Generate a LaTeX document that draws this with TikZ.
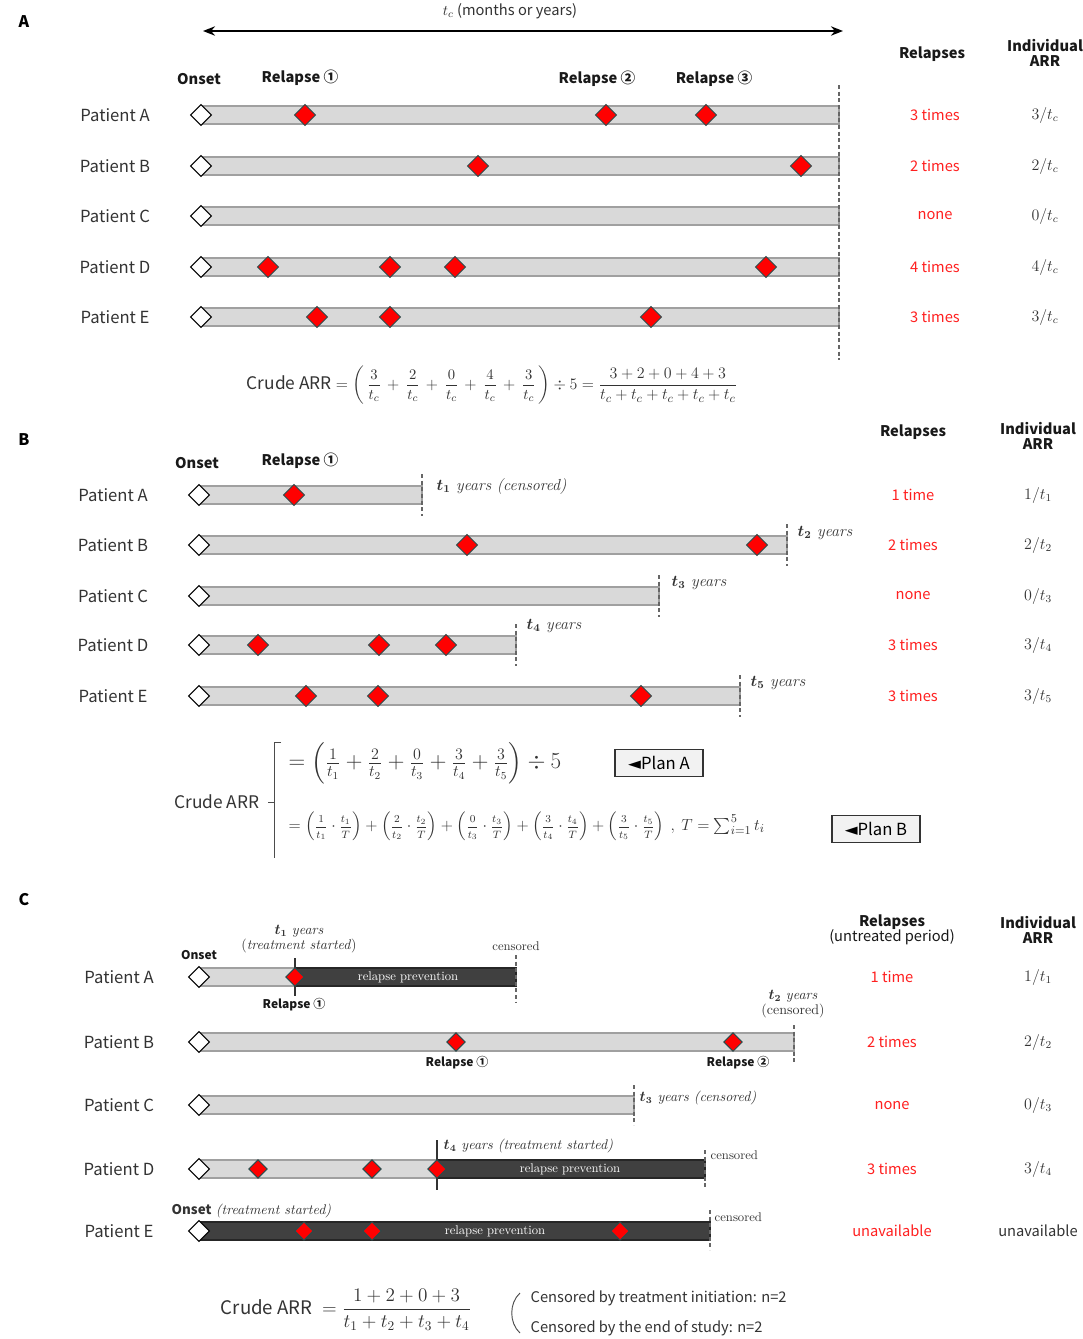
\documentclass[tikz,border=0pt]{standalone}
\usepackage{amsmath}
\usepackage{fontspec}
\setsansfont{Noto Sans CJK JP}
\newfontfamily\djv{DejaVu Sans}
\usetikzlibrary{shapes.geometric,arrows.meta}
\definecolor{barfill}{HTML}{D9D9D9}
\definecolor{barline}{HTML}{A0A0A0}
\definecolor{darkfill}{HTML}{404040}
\definecolor{darkline}{HTML}{262626}
\definecolor{relred}{HTML}{FF2020}
\definecolor{reldraw}{HTML}{2D4A4A}
\definecolor{txtgray}{HTML}{333333}
\definecolor{boxfill}{HTML}{F2F2F2}
\newcommand\sfr[2]{\mbox{\fontsize{8.5}{10}\selectfont$\dfrac{#1}{#2}$}}
\newcommand\afr[2]{\mbox{\,\fontsize{11}{13}\selectfont$\dfrac{#1}{#2}$\,}}
\tikzset{
  panel/.style={font=\sffamily\bfseries\fontsize{12}{14}\selectfont},
  bar/.style={draw=barline, fill=barfill, line width=0.8pt},
  dbar/.style={draw=darkline, fill=darkfill, line width=0.8pt},
  onset/.style={diamond, draw=black, fill=white, line width=0.8pt, minimum width=16pt, minimum height=16pt, inner sep=0pt},
  rel/.style={diamond, draw=reldraw, fill=red, line width=0.7pt, minimum width=16pt, minimum height=16pt, inner sep=0pt},
  relsm/.style={rel, minimum width=14pt, minimum height=14pt},
  plab/.style={font=\sffamily\fontsize{12.5}{15}\selectfont, text=txtgray},
  hdr/.style={font=\sffamily\bfseries\fontsize{11}{13}\selectfont, align=center, text=black!90},
  colhdr/.style={font=\sffamily\bfseries\fontsize{11}{13}\selectfont, text=black!90},
  smhdr/.style={font=\sffamily\bfseries\fontsize{9}{11}\selectfont, text=black!90},
  rcount/.style={font=\sffamily\fontsize{11}{13}\selectfont, text=relred},
  arrtxt/.style={font=\fontsize{12}{14}\selectfont, text=txtgray},
  cens/.style={dash pattern=on 3pt off 2pt, draw=black!60, line width=0.8pt},
  tline/.style={draw=black!80, line width=0.8pt},
  endlab/.style={font=\fontsize{12}{14}\selectfont\itshape, anchor=west, text=txtgray},
  serlab/.style={font=\fontsize{9.5}{11}\selectfont, text=txtgray},
  prev/.style={font=\fontsize{9.5}{11}\selectfont, text=white},
  formula/.style={font=\sffamily\fontsize{14}{16}\selectfont, text=txtgray},
  planbox/.style={draw=black!80, fill=boxfill, line width=0.8pt, font=\sffamily\fontsize{12.5}{14}\selectfont, minimum width=66pt, minimum height=20pt, inner sep=2pt}
}
\begin{document}
\begin{tikzpicture}[x=0.75pt,y=-0.75pt]
\useasboundingbox[fill=white] (0,0) rectangle (1082,1339);

%================ Panel A ================
\node[panel] (pA) at (24,22) {A};
\coordinate (tcL) at (203,31);
\coordinate (tcR) at (843,31);
\draw[line width=2.2pt, {Stealth[length=9pt,width=7pt]}-{Stealth[length=9pt,width=7pt]}] (tcL) -- (tcR);
\node[font=\sffamily\fontsize{11}{13}\selectfont, text=txtgray] (tcl) at (510,11) {$t_c$ (months or years)};
\node[colhdr] (onA) at (199,79) {Onset};
\node[colhdr] (r1A) at (300,78) {Relapse ①};
\node[colhdr] (r2A) at (597,79) {Relapse ②};
\node[colhdr] (r3A) at (714,79) {Relapse ③};
\node[hdr] (relA) at (932,54) {Relapses};
\node[hdr] (iaA) at (1045,53) {Individual\\[-2pt]ARR};

\foreach \y/\p/\c/\a [count=\i] in {115/A/3 times/3, 166/B/2 times/2, 216/C/none/0, 267/D/4 times/4, 317/E/3 times/3} {
  \node[plab] (pA\i) at (115,\y) {Patient \p};
  \draw[bar] (201,\y-9) rectangle (839,\y+9);
  \node[onset] (oA\i) at (201,\y) {};
  \node[rcount] (cA\i) at (935,\y) {\c};
  \node[arrtxt] (aA\i) at (1045,\y) {$\a/t_c$};
}
\foreach \x [count=\k] in {305,606,706} \node[rel] (dA1-\k) at (\x,115) {};
\foreach \x [count=\k] in {478,801} \node[rel] (dA2-\k) at (\x,166) {};
\foreach \x [count=\k] in {268,390,455,766} \node[rel] (dA4-\k) at (\x,267) {};
\foreach \x [count=\k] in {317,390,651} \node[rel] (dA5-\k) at (\x,317) {};
\coordinate (eAt) at (839,85);
\coordinate (eAb) at (839,360);
\draw[cens] (eAt) -- (eAb);

\node[formula, font=\sffamily\fontsize{13}{16}\selectfont] (fA) at (492,385) {Crude ARR $=\left(\afr{3}{t_c}+\afr{2}{t_c}+\afr{0}{t_c}+\afr{4}{t_c}+\afr{3}{t_c}\right)\div 5=\dfrac{3+2+0+4+3}{t_c+t_c+t_c+t_c+t_c}$};

%================ Panel B ================
\node[panel] (pB) at (24,440) {B};
\node[colhdr] (onB) at (197,463) {Onset};
\node[colhdr] (r1B) at (300,461) {Relapse ①};
\node[hdr] (relB) at (913,432) {Relapses};
\node[hdr] (iaB) at (1038,436) {Individual\\[-2pt]ARR};

\foreach \y/\p/\e/\c/\a [count=\i] in {495/A/422/1 time/1, 545/B/787/2 times/2, 596/C/659/none/0, 645/D/516/3 times/3, 696/E/740/3 times/3} {
  \node[plab] (pB\i) at (113,\y) {Patient \p};
  \draw[bar] (199,\y-9) rectangle (\e,\y+9);
  \node[onset] (oB\i) at (199,\y) {};
  \coordinate (eBt\i) at (\e,\y-21);
  \coordinate (eBb\i) at (\e,\y+21);
  \draw[cens] (eBt\i) -- (eBb\i);
  \node[rcount] (cB\i) at (913,\y) {\c};
  \node[arrtxt] (aB\i) at (1038,\y) {$\a/t_{\i}$};
}
\foreach \x [count=\k] in {294} \node[rel] (dB1-\k) at (\x,495) {};
\foreach \x [count=\k] in {467,757} \node[rel] (dB2-\k) at (\x,545) {};
\foreach \x [count=\k] in {258,379,446} \node[rel] (dB4-\k) at (\x,645) {};
\foreach \x [count=\k] in {306,378,641} \node[rel] (dB5-\k) at (\x,696) {};
\node[endlab] (tB1) at (432,486) {$\boldsymbol{t_1}$ years (censored)};
\node[endlab] (tB2) at (793,533) {$\boldsymbol{t_2}$ years};
\node[endlab] (tB3) at (667,583) {$\boldsymbol{t_3}$ years};
\node[endlab] (tB4) at (522,626) {$\boldsymbol{t_4}$ years};
\node[endlab] (tB5) at (746,683) {$\boldsymbol{t_5}$ years};

\node[formula, font=\sffamily\fontsize{13}{15}\selectfont] (crB) at (217,802) {Crude ARR};
\coordinate (bk1) at (281,742);
\coordinate (bk2) at (274,742);
\coordinate (bk3) at (274,858);
\coordinate (bk4) at (274,802);
\coordinate (bk5) at (268,802);
\draw[line width=0.7pt, draw=black!70] (bk1) -- (bk2) -- (bk3);
\draw[line width=0.7pt, draw=black!70] (bk4) -- (bk5);
\node[formula, anchor=west, font=\sffamily\fontsize{16.5}{19}\selectfont] (fB1) at (284,763) {$=\left(\frac{1}{t_1}+\frac{2}{t_2}+\frac{0}{t_3}+\frac{3}{t_4}+\frac{3}{t_5}\right)\div 5$};
\node[planbox] (planA) at (659,763) {{\djv ◄}Plan A};
\node[formula, anchor=west, font=\sffamily\fontsize{12.5}{14}\selectfont] (fB2) at (284,826) {$=\left(\sfr{1}{t_1}\cdot\sfr{t_1}{T}\right)+\left(\sfr{2}{t_2}\cdot\sfr{t_2}{T}\right)+\left(\sfr{0}{t_3}\cdot\sfr{t_3}{T}\right)+\left(\sfr{3}{t_4}\cdot\sfr{t_4}{T}\right)+\left(\sfr{3}{t_5}\cdot\sfr{t_5}{T}\right)\ ,\ T=\sum\nolimits_{i=1}^{5} t_i$};
\node[planbox] (planB) at (876,829) {{\djv ◄}Plan B};

%================ Panel C ================
\node[panel] (pC) at (24,900) {C};
\node[hdr, font=\sffamily\fontsize{11}{13}\selectfont] (relC) at (892,930) {\textbf{Relapses}\\[-2pt](untreated period)};
\node[hdr] (iaC) at (1038,930) {Individual\\[-2pt]ARR};

\foreach \y/\p/\c [count=\i] in {977/A/1 time, 1042/B/2 times, 1105/C/none, 1169/D/3 times, 1231/E/unavailable} {
  \node[plab] (pC\i) at (119,\y) {Patient \p};
  \node[rcount] (cC\i) at (892,\y) {\c};
}
\node[arrtxt] (aC1) at (1038,977) {$1/t_1$};
\node[arrtxt] (aC2) at (1038,1042) {$2/t_2$};
\node[arrtxt] (aC3) at (1038,1105) {$0/t_3$};
\node[arrtxt] (aC4) at (1038,1169) {$3/t_4$};
\node[font=\sffamily\fontsize{11}{13}\selectfont, text=txtgray] (aC5) at (1038,1231) {unavailable};

% row A
\draw[bar] (199,968) rectangle (295,986);
\draw[dbar] (295,968) rectangle (516,986);
\node[prev] (pvA) at (408,977) {relapse prevention};
\coordinate (tlA1) at (295,958);
\coordinate (tlA2) at (295,996);
\draw[tline] (tlA1) -- (tlA2);
\node[onset] (oC1) at (199,977) {};
\node[relsm] (dC1-1) at (295,977) {};
\node[font=\fontsize{10.5}{12}\selectfont, align=center, text=txtgray] (tC1) at (299,939) {$\boldsymbol{t_1}$ \textit{years}\\[-1pt](\textit{treatment started})};
\node[smhdr] (onC) at (199,955) {Onset};
\node[smhdr] (rlC1) at (294,1005) {Relapse ①};
\node[serlab] (csA) at (516,946) {censored};
\coordinate (eCt1) at (516,955);
\coordinate (eCb1) at (516,1002);
\draw[cens] (eCt1) -- (eCb1);

% row B
\draw[bar] (199,1033) rectangle (794,1051);
\node[onset] (oC2) at (199,1042) {};
\node[relsm] (dC2-1) at (456,1042) {};
\node[relsm] (dC2-2) at (733,1042) {};
\node[smhdr] (rlC2a) at (457,1063) {Relapse ①};
\node[smhdr] (rlC2b) at (738,1063) {Relapse ②};
\coordinate (eCt2) at (794,1025);
\coordinate (eCb2) at (794,1062);
\draw[cens] (eCt2) -- (eCb2);
\node[font=\fontsize{10.5}{12}\selectfont, align=center, text=txtgray] (tC2) at (793,1004) {$\boldsymbol{t_2}$ \textit{years}\\[-1pt](censored)};

% row C
\draw[bar] (199,1096) rectangle (634,1114);
\node[onset] (oC3) at (199,1105) {};
\coordinate (eCt3) at (634,1085);
\coordinate (eCb3) at (634,1125);
\draw[cens] (eCt3) -- (eCb3);
\node[endlab, font=\fontsize{10.5}{12}\selectfont\itshape] (tC3) at (635,1098) {$\boldsymbol{t_3}$ years (censored)};

% row D
\draw[bar] (199,1160) rectangle (437,1178);
\draw[dbar] (437,1160) rectangle (705,1178);
\node[prev] (pvD) at (570,1169) {relapse prevention};
\coordinate (tlD1) at (437,1140);
\coordinate (tlD2) at (437,1190);
\draw[tline] (tlD1) -- (tlD2);
\node[onset] (oC4) at (199,1169) {};
\foreach \x [count=\k] in {258,372,437} \node[relsm] (dC4-\k) at (\x,1169) {};
\node[endlab, font=\fontsize{10.5}{12}\selectfont\itshape] (tC4) at (439,1146) {$\boldsymbol{t_4}$ years (treatment started)};
\node[serlab, anchor=west] (csD) at (706,1155) {censored};
\coordinate (eCt4) at (705,1150);
\coordinate (eCb4) at (705,1188);
\draw[cens] (eCt4) -- (eCb4);

% row E
\draw[dbar] (199,1222) rectangle (710,1240);
\node[prev] (pvE) at (495,1231) {relapse prevention};
\node[onset] (oC5) at (199,1231) {};
\foreach \x [count=\k] in {304,372,620} \node[relsm] (dC5-\k) at (\x,1231) {};
\node[anchor=west, text=txtgray] (onE) at (167,1211) {{\sffamily\bfseries\fontsize{10}{12}\selectfont Onset} {\fontsize{10.5}{12}\selectfont\itshape(treatment started)}};
\node[serlab, anchor=west] (csE) at (710,1217) {censored};
\coordinate (eCt5) at (710,1210);
\coordinate (eCb5) at (710,1250);
\draw[cens] (eCt5) -- (eCb5);

% formula C
\node[formula] (fC) at (346,1310) {Crude ARR $\;=\dfrac{1+2+0+3}{t_1+t_2+t_3+t_4}$};
\coordinate (pr1) at (520,1293);
\coordinate (pr2) at (520,1333);
\draw[line width=0.7pt, draw=black!70] (pr1) .. controls (509,1303) and (509,1323) .. (pr2);
\node[anchor=west, font=\sffamily\fontsize{11}{13}\selectfont, text=txtgray] (cn1) at (526,1298) {Censored by treatment initiation: n=2};
\node[anchor=west, font=\sffamily\fontsize{11}{13}\selectfont, text=txtgray] (cn2) at (526,1328) {Censored by the end of study: n=2};
\end{tikzpicture}
\end{document}
